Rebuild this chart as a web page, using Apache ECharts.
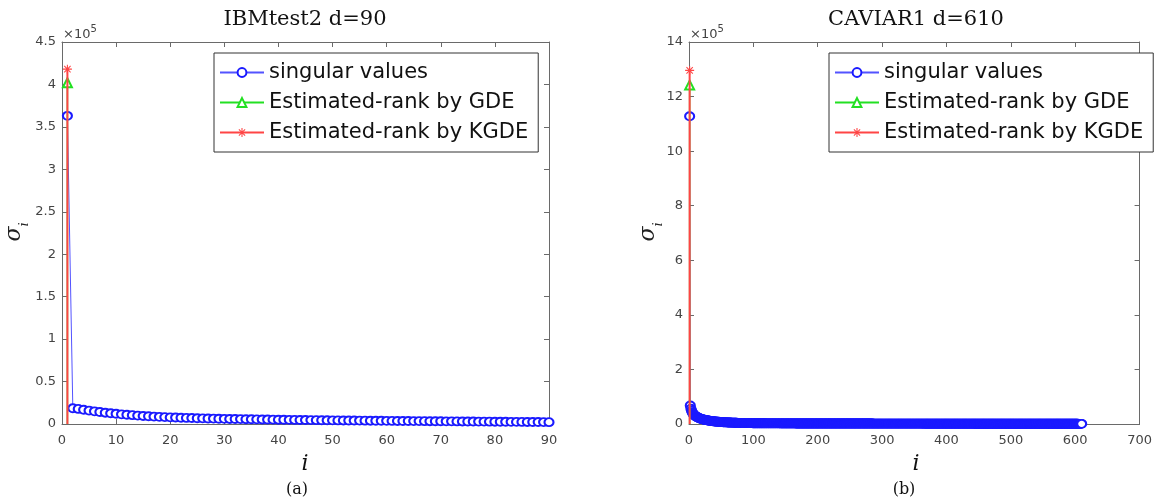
<!DOCTYPE html>
<html>
<head>
<meta charset="utf-8">
<script src="https://cdn.jsdelivr.net/npm/echarts@6/dist/echarts.min.js"></script>
<style>
  html, body { margin: 0; background: #fff; }
  #chart { width: 1155px; height: 501px; }
</style>
</head>
<body>
<div id="chart"></div>
<script>
// values in units of 1e5 (axis shows x10^5)
const seriesNames = ['singular values', 'Estimated-rank by GDE', 'Estimated-rank by KGDE'];

const sigmaLeft = [
  3.63, .185, .178, .168, .158, .149, .141, .133, .126, .120,
  .114, .109, .104, .099, .095, .091, .087, .084, .081, .078,
  .076, .074, .072, .070, .068, .0665, .065, .0635, .062, .0605,
  .0595, .0585, .0575, .0565, .0555, .0545, .0535, .0525, .0515, .0505,
  .0497, .0489, .0481, .0473, .0465, .0458, .0451, .0444, .0437, .043,
  .0424, .0418, .0412, .0406, .040, .0394, .0388, .0382, .0376, .037,
  .0365, .036, .0355, .035, .0345, .034, .0335, .033, .0325, .032,
  .0315, .031, .0305, .030, .0295, .029, .0285, .028, .0275, .027,
  .0265, .026, .0255, .025, .0245, .024, .0235, .023, .0225, .022
];

const sigmaRight = [
  11.28, .68, .56, .49, .43, .39, .35, .33, .31, .29,
  .275, .26, .25, .24, .225, .215, .205, .195, .187, .18,
  .173, .167, .161, .155, .15, .145, .14, .135, .131, .127,
  .123, .119, .115, .112, .109, .106, .103, .1, .097, .094,
  .091, .088, .086, .084, .082, .08, .078, .076, .074, .072,
  .07, .068, .066, .065, .064, .062, .061, .06, .058, .057,
  .056, .055, .054, .053, .052, .051, .05, .049, .048, .047,
  .046, .045, .044, .044, .043, .042, .041, .041, .04, .039,
  .039, .038, .037, .037, .036, .036, .035, .034, .034, .033,
  .033, .032, .032, .031, .031, .03, .03, .03, .029, .029,
  .029, .029, .028, .028, .028, .028, .027, .027, .027, .027,
  .027, .026, .026, .026, .026, .026, .026, .025, .025, .025,
  .025, .025, .025, .025, .024, .024, .024, .024, .024, .024,
  .024, .024, .023, .023, .023, .023, .023, .023, .023, .023,
  .023, .022, .022, .022, .022, .022, .022, .022, .022, .022,
  .022, .022, .021, .021, .021, .021, .021, .021, .021, .021,
  .021, .021, .021, .021, .021, .02, .02, .02, .02, .02,
  .02, .02, .02, .02, .02, .02, .02, .02, .02, .02,
  .019, .019, .019, .019, .019, .019, .019, .019, .019, .019,
  .019, .019, .019, .019, .019, .019, .019, .019, .019, .019,
  .019, .019, .019, .018, .018, .018, .018, .018, .018, .018,
  .018, .018, .018, .018, .018, .018, .018, .018, .018, .018,
  .018, .018, .018, .018, .018, .018, .017, .017, .017, .017,
  .017, .017, .017, .017, .017, .017, .017, .017, .017, .017,
  .017, .017, .017, .017, .017, .017, .017, .017, .017, .017,
  .017, .016, .016, .016, .016, .016, .016, .016, .016, .016,
  .016, .016, .016, .016, .016, .016, .016, .016, .016, .016,
  .016, .016, .016, .016, .016, .016, .016, .016, .016, .016,
  .016, .016, .016, .016, .016, .015, .015, .015, .015, .015,
  .015, .015, .015, .015, .015, .015, .015, .015, .015, .015,
  .015, .015, .015, .015, .015, .015, .015, .015, .015, .015,
  .015, .015, .015, .015, .015, .015, .015, .015, .015, .015,
  .015, .015, .014, .014, .014, .014, .014, .014, .014, .014,
  .014, .014, .014, .014, .014, .014, .014, .014, .014, .014,
  .014, .014, .014, .014, .014, .014, .014, .014, .014, .014,
  .014, .014, .014, .014, .014, .014, .014, .014, .014, .014,
  .014, .014, .014, .013, .013, .013, .013, .013, .013, .013,
  .013, .013, .013, .013, .013, .013, .013, .013, .013, .013,
  .013, .013, .013, .013, .013, .013, .013, .013, .013, .013,
  .013, .013, .013, .013, .013, .013, .013, .013, .013, .013,
  .013, .013, .012, .012, .012, .012, .012, .012, .012, .012,
  .012, .012, .012, .012, .012, .012, .012, .012, .012, .012,
  .012, .012, .012, .012, .012, .012, .012, .012, .012, .012,
  .012, .012, .012, .012, .012, .012, .012, .012, .012, .012,
  .012, .012, .011, .011, .011, .011, .011, .011, .011, .011,
  .011, .011, .011, .011, .011, .011, .011, .011, .011, .011,
  .011, .011, .011, .011, .011, .011, .011, .011, .011, .011,
  .011, .011, .011, .011, .011, .011, .011, .011, .011, .011,
  .011, .011, .01, .01, .01, .01, .01, .01, .01, .01,
  .01, .01, .01, .01, .01, .01, .01, .01, .01, .01,
  .01, .01, .01, .01, .01, .01, .01, .01, .01, .01,
  .01, .01, .01, .01, .01, .01, .01, .01, .01, .01,
  .01, .01, .009, .009, .009, .009, .009, .009, .009, .009,
  .009, .009, .009, .009, .009, .009, .009, .009, .009, .009,
  .009, .009, .009, .009, .009, .009, .009, .009, .009, .009,
  .009, .009, .009, .009, .009, .009, .009, .009, .009, .009,
  .009, .009, .008, .008, .008, .008, .008, .008, .008, .008,
  .008, .008, .008, .008, .008, .008, .008, .008, .008, .008,
  .008, .008, .008, .008, .008, .008, .008, .008, .008, .008,
  .008, .008, .007, .007, .007, .007, .007, .007, .007, .007,
  .007, .007, .007, .007, .006, .006, .006, .006, .006, .005
];

// estimated rank (x) and stem height (1e5) for each method
const gdeLeft = [1, 4.02];
const kgdeLeft = [1, 4.18];
const gdeRight = [1, 12.42];
const kgdeRight = [1, 12.96];

const xTicksLeft = [0, 90, 10];
const yTicksLeft = [0, 4.5, 0.5];
const xTicksRight = [0, 700, 100];
const yTicksRight = [0, 14, 2];

const BLUE = '#1a1aff';
const GREEN = '#22e022';
const RED = '#ff4545';
const AXIS = '#6a6a6a';
const LABEL = '#444';
const STAR = 'path://M-0.6,-5L0.6,-5L0.6,5L-0.6,5Z M-5,-0.6L5,-0.6L5,0.6L-5,0.6Z M-3.12,-3.96L3.96,3.12L3.12,3.96L-3.96,-3.12Z M3.96,-3.12L-3.12,3.96L-3.96,3.12L3.12,-3.96Z';

function makeX(grid, ticks, pos) {
  return {
    type: 'value', gridIndex: grid, position: pos,
    min: ticks[0], max: ticks[1], interval: ticks[2],
    axisLine: { show: true, onZero: false, lineStyle: { color: AXIS, width: 1 } },
    axisTick: { show: true, inside: true, length: 5, lineStyle: { color: AXIS } },
    axisLabel: { show: pos === 'bottom', margin: 10, color: LABEL, fontSize: 13, fontFamily: 'DejaVu Sans' },
    splitLine: { show: false }
  };
}
function makeY(grid, ticks, pos) {
  return {
    type: 'value', gridIndex: grid, position: pos,
    min: ticks[0], max: ticks[1], interval: ticks[2],
    axisLine: { show: true, onZero: false, lineStyle: { color: AXIS, width: 1 } },
    axisTick: { show: true, inside: true, length: 5, lineStyle: { color: AXIS } },
    axisLabel: { show: pos === 'left', margin: 6, color: LABEL, fontSize: 13, fontFamily: 'DejaVu Sans' },
    splitLine: { show: false }
  };
}

// stem from 0 up to the estimated rank marker; no marker at the foot
function stemData(rank) {
  return [{ value: [rank[0], 0], symbol: 'none' }, [rank[0], rank[1]]];
}

function plotSeries(ax, sigma, gde, kgde) {
  return [
    {
      name: seriesNames[0], type: 'line', xAxisIndex: ax, yAxisIndex: ax,
      data: sigma.map((v, k) => [k + 1, v]),
      symbol: 'emptyCircle', symbolSize: [9, 8], showAllSymbol: true, clip: false,
      lineStyle: { color: BLUE, width: 1, opacity: 0.75 },
      itemStyle: { color: BLUE, borderWidth: 1 },
      animation: false, z: 2
    },
    {
      name: seriesNames[1], type: 'line', xAxisIndex: ax, yAxisIndex: ax,
      data: stemData(gde),
      symbol: 'emptyTriangle', symbolSize: 9, clip: false,
      lineStyle: { color: GREEN, width: 1.5 },
      itemStyle: { color: GREEN, borderWidth: 1 },
      animation: false, z: 3
    },
    {
      name: seriesNames[2], type: 'line', xAxisIndex: ax, yAxisIndex: ax,
      data: stemData(kgde),
      symbol: STAR, symbolSize: 9, clip: false,
      lineStyle: { color: RED, width: 2 },
      itemStyle: { color: RED },
      animation: false, z: 4
    }
  ];
}

function legendAt(left) {
  return {
    orient: 'vertical', left: left, top: 53,
    padding: [9, 10, 9, 5], itemGap: 9, itemWidth: 44, itemHeight: 11,
    borderColor: '#333', borderWidth: 1, backgroundColor: '#fff',
    selectedMode: false,
    textStyle: { fontSize: 21, fontFamily: 'DejaVu Sans', color: '#111' },
    data: seriesNames
  };
}

function textEl(x, y, text, font) {
  return {
    type: 'text', x: x, y: y,
    style: { text: text, font: font, fill: '#111', align: 'center', verticalAlign: 'middle' }
  };
}
function sigmaLabel(x) {
  return {
    type: 'text', x: x, y: 232, rotation: Math.PI / 2,
    style: {
      text: '{s|σ}{i|i}', align: 'center', verticalAlign: 'middle', fill: '#222',
      rich: {
        s: { font: 'italic 22px "DejaVu Serif"', padding: [0, 0, 6, 0], verticalAlign: 'bottom' },
        i: { font: 'italic 13px "DejaVu Serif"', verticalAlign: 'bottom' }
      }
    }
  };
}
function expLabel(x) {
  return {
    type: 'text', x: x, y: 24,
    style: {
      text: '{m|×10}{e|5}', align: 'left', verticalAlign: 'top', fill: LABEL,
      rich: {
        m: { font: '13px "DejaVu Sans"', padding: [4, 0, 0, 0], verticalAlign: 'bottom' },
        e: { font: '10px "DejaVu Sans"', verticalAlign: 'top' }
      }
    }
  };
}

const chart = echarts.init(document.getElementById('chart'), null, { renderer: 'canvas' });
chart.setOption({
  backgroundColor: '#fff',
  animation: false,
  grid: [
    { left: 62, top: 42, width: 487, height: 382 },
    { left: 689, top: 42, width: 454, height: 382 }
  ],
  xAxis: [
    makeX(0, xTicksLeft, 'bottom'), makeX(0, xTicksLeft, 'top'),
    makeX(1, xTicksRight, 'bottom'), makeX(1, xTicksRight, 'top')
  ],
  yAxis: [
    makeY(0, yTicksLeft, 'left'), makeY(0, yTicksLeft, 'right'),
    makeY(1, yTicksRight, 'left'), makeY(1, yTicksRight, 'right')
  ],
  legend: [legendAt(214), legendAt(829)],
  series: [].concat(
    plotSeries(0, sigmaLeft, gdeLeft, kgdeLeft),
    plotSeries(2, sigmaRight, gdeRight, kgdeRight)
  ),
  graphic: [
    textEl(305, 20, 'IBMtest2 d=90', '21px "DejaVu Serif"'),
    textEl(916, 20, 'CAVIAR1 d=610', '21px "DejaVu Serif"'),
    expLabel(63), expLabel(690),
    sigmaLabel(17), sigmaLabel(651),
    textEl(305, 464, 'i', 'italic 22px "DejaVu Serif"'),
    textEl(916, 464, 'i', 'italic 22px "DejaVu Serif"'),
    textEl(297, 490, '(a)', '16px "DejaVu Serif"'),
    textEl(904, 490, '(b)', '16px "DejaVu Serif"')
  ]
});
</script>
</body>
</html>
